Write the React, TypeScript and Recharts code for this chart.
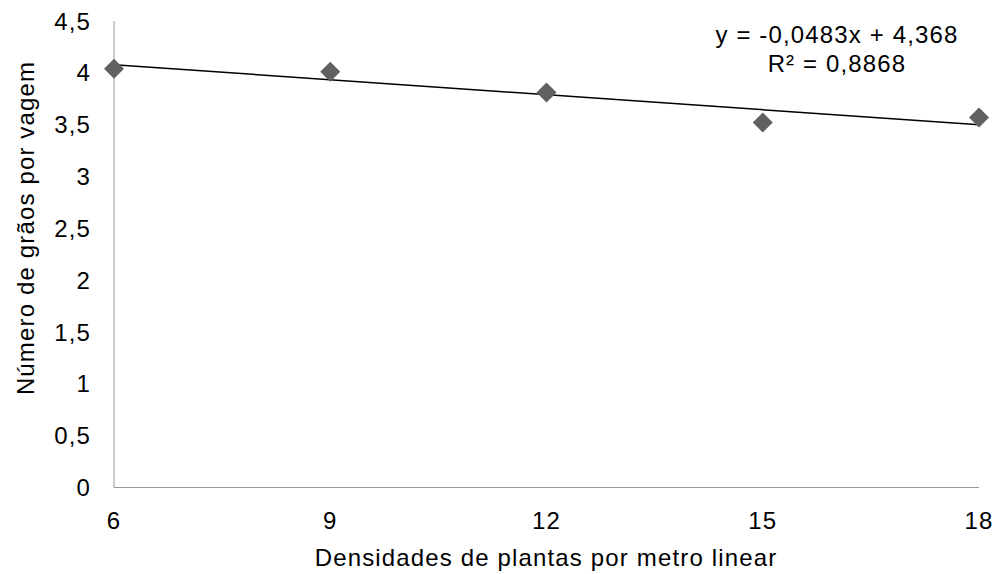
import { ComposedChart, Line, Scatter, XAxis, YAxis } from "recharts";

const densities = [6, 9, 12, 15, 18];
const grains = [4.04, 4.01, 3.81, 3.52, 3.57];
const xTicks = [6, 9, 12, 15, 18];
const yTicks = [0, 0.5, 1, 1.5, 2, 2.5, 3, 3.5, 4, 4.5];
// endpoints of the fitted line y = -0,0483x + 4,368
const trendX = [6, 18];
const trendY = [4.078, 3.499];

const points = densities.map((x, i) => ({ x, y: grains[i] }));
const trend = trendX.map((x, i) => ({ x, y: trendY[i] }));

const FONT = "'Liberation Sans', Arial, sans-serif";
const FS = 24;
const LS = 1.15;
const comma = (v: number) => String(v).replace(".", ",");

function Diamond(props: any) {
  const { cx, cy } = props;
  const r = 10;
  return (
    <polygon
      points={`${cx},${cy - r} ${cx + r},${cy} ${cx},${cy + r} ${cx - r},${cy}`}
      fill="#606060"
    />
  );
}

export default function App() {
  return (
    <div style={{ position: "absolute", left: 0, top: 0, width: 1000, height: 574, fontFamily: FONT }}>
      <ComposedChart
        width={1000}
        height={574}
        margin={{ top: 21, right: 21, bottom: 0, left: 0 }}
      >
        <XAxis
          type="number"
          dataKey="x"
          domain={[6, 18]}
          ticks={xTicks}
          tickLine={false}
          tickSize={0}
          tickMargin={24}
          height={86.5}
          stroke="#999"
          tick={{ fill: "#000", fontSize: FS, fontFamily: FONT, letterSpacing: LS }}
          label={{
            content: () => (
              <text
                x={546}
                y={566}
                textAnchor="middle"
                fontSize={FS}
                letterSpacing={LS}
                fontFamily={FONT}
                fill="#000"
              >
                Densidades de plantas por metro linear
              </text>
            ),
          }}
        />
        <YAxis
          type="number"
          dataKey="y"
          domain={[0, 4.5]}
          ticks={yTicks}
          tickFormatter={comma}
          tickLine={false}
          tickSize={0}
          tickMargin={23}
          width={114}
          stroke="#999"
          tick={{ fill: "#000", fontSize: FS, fontFamily: FONT, letterSpacing: LS }}
          label={{
            content: () => (
              <text
                x={34}
                y={228}
                transform="rotate(-90, 34, 228)"
                textAnchor="middle"
                fontSize={FS}
                letterSpacing={LS}
                fontFamily={FONT}
                fill="#000"
              >
                Número de grãos por vagem
              </text>
            ),
          }}
        />
        <Line
          data={trend}
          dataKey="y"
          type="linear"
          stroke="#000"
          strokeWidth={1.5}
          dot={false}
          activeDot={false}
          isAnimationActive={false}
        />
        <Scatter data={points} dataKey="y" shape={<Diamond />} isAnimationActive={false} />
      </ComposedChart>
      <div
        style={{
          position: "absolute",
          left: 837,
          top: 19.6,
          transform: "translateX(-50%)",
          fontSize: FS,
          letterSpacing: LS,
          lineHeight: "29.6px",
          textAlign: "center",
          whiteSpace: "nowrap",
          color: "#000",
        }}
      >
        <div>y = -0,0483x + 4,368</div>
        <div>R² = 0,8868</div>
      </div>
    </div>
  );
}
